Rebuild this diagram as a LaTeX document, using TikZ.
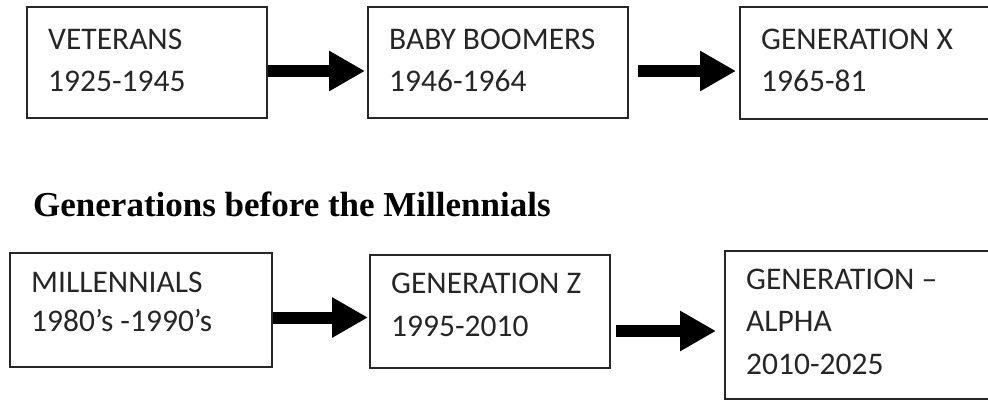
\documentclass[tikz,border=0pt]{standalone}
\usepackage{fontspec}
\newfontfamily\boxfont{Carlito}
\newfontfamily\titlefont{Liberation Serif}
\usetikzlibrary{calc}
\usetikzlibrary{arrows.meta}

\tikzset{
  genbox/.style={draw=black!85, line width=2pt, inner sep=0pt},
  gentext/.style={anchor=base west, inner sep=0pt, align=left,
    font=\boxfont\fontsize{31.5}{42}\selectfont, text=black!85},
  bigarrow/.style={line width=12pt, -{Triangle[length=36pt, width=38pt]}}
}

\begin{document}
\begin{tikzpicture}[x=1pt, y=-1pt]

  %--------------------------------------------
  % Page frame (same size as the reference)
  %--------------------------------------------
  \useasboundingbox (0,0) rectangle (988,400);
  \clip (0,0) rectangle (988,400);

  %--------------------------------------------
  % Boxes of the generations
  % name / centre x / centre y / width / height / last baseline / text
  %--------------------------------------------
  \foreach \n/\cx/\cy/\w/\h/\ty/\txt in {
      vet/147/62.5/240/111/85/{VETERANS\\1925-1945},
      boom/498/62.5/260/111/85/{BABY BOOMERS\\1946-1964},
      genx/890/63/300/112/85/{GENERATION X\\1965-81},
      mill/141/310/262/114/79/{MILLENNIALS\\[-3pt]1980’s -1990’s},
      genz/490/311.5/240/113/82/{GENERATION Z\\[1pt]1995-2010},
      alpha/875/325/300/148/124/{GENERATION –\\ALPHA\\[1pt]2010-2025}}
  {
    % the frame
    \node[genbox, minimum width=\w pt, minimum height=\h pt] (\n) at (\cx,\cy) {};

    % its text, top left
    \node[gentext] (\n-txt) at ($(\n.north west)+(22,\ty)$) {\txt};
  }

  %--------------------------------------------
  % Title between the two rows
  %--------------------------------------------
  \node[anchor=base west, inner sep=0pt, font=\titlefont\bfseries\fontsize{35}{40}\selectfont]
    (title) at (33,216) {Generations before the Millennials};

  %--------------------------------------------
  % Thick arrows
  %--------------------------------------------
  \draw[bigarrow] ($(vet.east)+(0,8.5)$)   -- ($(boom.west)+(-2,8.5)$);
  \draw[bigarrow] ($(boom.east)+(9,8.5)$)  -- ($(genx.west)+(-3,8)$);
  \draw[bigarrow] ($(mill.east)+(0,7.5)$)  -- ($(genz.west)+(-1,6)$);
  \draw[bigarrow] ($(genz.east)+(5,19.5)$) -- ($(alpha.west)+(-8,6)$);

\end{tikzpicture}
\end{document}
